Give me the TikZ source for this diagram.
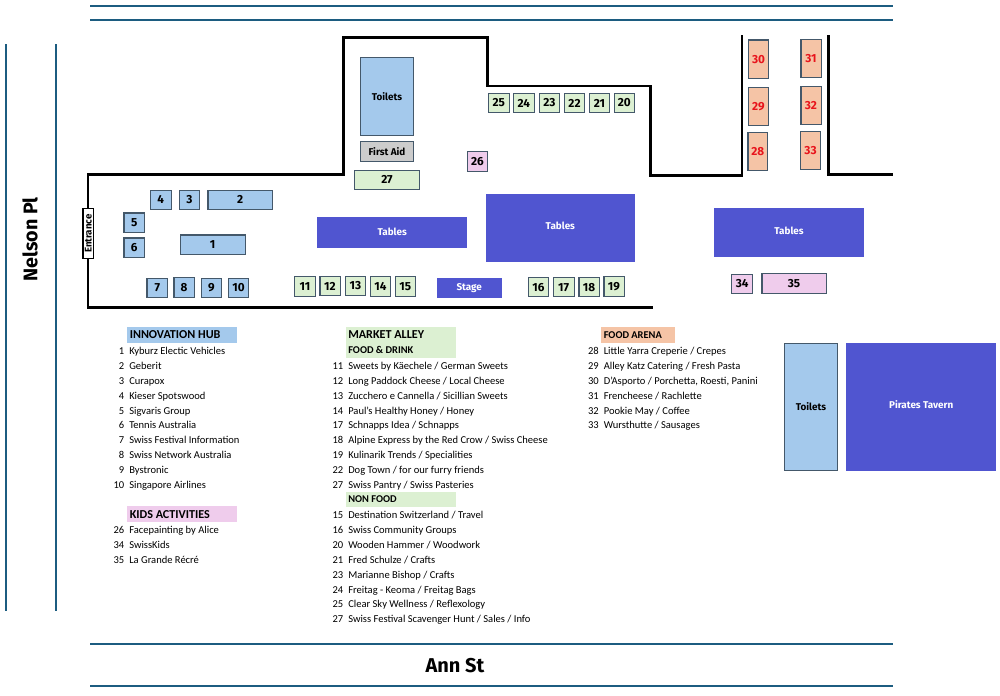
\documentclass[tikz,border=0pt]{standalone}
\usepackage{fontspec}
\setmainfont{Carlito}
\newfontfamily\mapfont{Fira Sans}
\definecolor{hubblue}{HTML}{A4C9EC}
\definecolor{mktgreen}{HTML}{DCF0D2}
\definecolor{kidpink}{HTML}{EFCCEC}
\definecolor{foodor}{HTML}{F5C4A6}
\definecolor{tblue}{HTML}{5055D0}
\definecolor{aidgrey}{HTML}{CCCCCC}
\definecolor{stallline}{HTML}{44586A}
\definecolor{roadline}{HTML}{1C5C80}
\definecolor{foodred}{HTML}{E8141C}
\tikzset{
 px/.style={x=0.75pt,y=-0.75pt},
 box/.style={draw=stallline,line width=0.9pt,inner sep=0pt,text=black,font=\mapfont\bfseries\fontsize{8.8}{9}\selectfont},
 hub/.style={box,fill=hubblue},
 mkt/.style={box,fill=mktgreen},
 kid/.style={box,fill=kidpink},
 food/.style={box,fill=foodor,text=foodred},
 aid/.style={box,fill=aidgrey,font=\mapfont\bfseries\fontsize{7.4}{8}\selectfont},
 wc/.style={box,fill=hubblue,font=\mapfont\bfseries\fontsize{7.4}{8}\selectfont},
 venue/.style={inner sep=0pt,fill=tblue,text=white,font=\mapfont\bfseries\fontsize{7.4}{8}\selectfont},
 wall/.style={line width=1.9pt,draw=black,line cap=butt,line join=miter},
 road/.style={line width=1.4pt,draw=roadline},
 headtxt/.style={inner sep=0pt,anchor=west,font=\bfseries\fontsize{9.1}{10}\selectfont},
 subtxt/.style={inner sep=0pt,anchor=west,font=\bfseries\fontsize{7.8}{10}\selectfont},
 num/.style={inner sep=0pt,anchor=base east,font=\fontsize{7.9}{9}\selectfont},
 item/.style={inner sep=0pt,anchor=base west,font=\fontsize{7.9}{9}\selectfont},
}
% style, name, x1, y1, x2, y2, text
\newcommand{\spot}[7]{%
 \pgfmathsetmacro{\spw}{(#5-#3)*0.75-0.9}\pgfmathsetmacro{\sph}{(#6-#4)*0.75-0.9}%
 \node[#1,minimum width=\spw pt,minimum height=\sph pt] (#2) at ({(#3+#5)/2},{(#4+#6)/2}) {#7};}
% column x, y, num, text
\newcommand{\row}[4]{%
 \node[num] (n#1-#2) at (#1-4.5,#2) {#3};
 \node[item] (t#1-#2) at (#1,#2) {#4};}
\begin{document}
\begin{tikzpicture}[px]
\useasboundingbox (0,0) rectangle (1000,696);
% roads
\draw[road] (90,6) -- (893,6);
\draw[road] (90,20) -- (893,20);
\draw[road] (6,44) -- (6,611);
\draw[road] (56,44) -- (56,611);
\draw[road] (90,644) -- (893,644);
\draw[road] (90,686) -- (893,686);
\node[font=\mapfont\bfseries\fontsize{14.8}{16}\selectfont,rotate=90,inner sep=0pt] (nelson) at (30,239.5) {Nelson Pl};
\node[font=\mapfont\bfseries\fontsize{15}{16}\selectfont,inner sep=0pt] (ann) at (455,666) {Ann St};
% walls
\draw[wall] (88,208) -- (88,174.3) -- (343.3,174.3) -- (343.3,37.3) -- (487.3,37.3) -- (487.3,86) -- (650.3,86) -- (650.3,175.7) -- (742,175.7) -- (742,35);
\draw[wall] (828.7,35) -- (828.7,174.3) -- (893,174.3);
\draw[wall] (88,259) -- (88,307.3) -- (652.7,307.3);
% entrance
\node[draw=black,line width=1.2pt,fill=white,inner sep=0pt,minimum width=37.5pt,minimum height=8pt,rotate=90,font=\mapfont\bfseries\fontsize{7.3}{7}\selectfont] (entrance) at (88.3,233.6) {Entrance};
% innovation hub
\spot{hub}{s4}{149.7}{189.7}{171.7}{210}{4}
\spot{hub}{s3}{178.7}{189.7}{200}{210}{3}
\spot{hub}{s2}{207.3}{189.7}{273}{210}{2}
\spot{hub}{s5}{123.3}{212.3}{145}{232.7}{5}
\spot{hub}{s6}{123.3}{237.3}{145}{258}{6}
\spot{hub}{s1}{179.7}{234.3}{245.7}{255.3}{1}
\spot{hub}{s7}{146.3}{277.7}{168.3}{298.3}{7}
\spot{hub}{s8}{173.3}{277}{195}{297.7}{8}
\spot{hub}{s9}{200.7}{277.7}{222.3}{298.3}{9}
\spot{hub}{s10}{227.7}{277.7}{249.3}{298.3}{10}
% market
\spot{mkt}{s11}{294}{276}{315.7}{296.7}{11}
\spot{mkt}{s12}{319.3}{275.7}{340.7}{296.3}{12}
\spot{mkt}{s13}{344.7}{275.7}{366.3}{296.3}{13}
\spot{mkt}{s14}{369.7}{276}{391.3}{296.7}{14}
\spot{mkt}{s15}{394.7}{276}{416}{296.7}{15}
\spot{mkt}{s16}{527.7}{277}{549.3}{297.3}{16}
\spot{mkt}{s17}{552.7}{277}{574.7}{297.3}{17}
\spot{mkt}{s18}{578.3}{277}{599.7}{297.3}{18}
\spot{mkt}{s19}{603.3}{276}{624.7}{296.7}{19}
\spot{mkt}{s25}{487.7}{92.7}{509.7}{113.3}{25}
\spot{mkt}{s24}{512.7}{92.7}{534.7}{113.3}{24}
\spot{mkt}{s23}{538.7}{92.7}{560}{113.3}{23}
\spot{mkt}{s22}{563.7}{92.7}{585.3}{113.3}{22}
\spot{mkt}{s21}{588.7}{92.7}{610.3}{113.3}{21}
\spot{mkt}{s20}{613.7}{92.7}{635}{113.3}{20}
\spot{mkt}{s27}{354}{169.7}{420}{190.3}{27}
% kids
\spot{kid}{s26}{466.7}{150.7}{488.3}{172}{26}
\spot{kid}{s34}{731}{273.7}{753.3}{294.3}{34}
\spot{kid}{s35}{761.3}{273}{826.7}{294.3}{35}
% food
\spot{food}{s30}{748}{39.3}{769}{79}{30}
\spot{food}{s29}{748}{86.7}{769}{126.3}{29}
\spot{food}{s28}{747.3}{132}{768.3}{171}{28}
\spot{food}{s31}{800.3}{38.7}{821.7}{77.7}{31}
\spot{food}{s32}{800.3}{86}{821.7}{125.3}{32}
\spot{food}{s33}{799.7}{130.7}{821.3}{170}{33}
% facilities
\spot{wc}{wc1}{360}{56.7}{414}{136}{Toilets}
\spot{aid}{aid}{360}{141}{414}{161.7}{First Aid}
\spot{wc}{wc2}{784}{342.7}{838}{470.7}{Toilets}
\spot{venue}{tab1}{316.7}{216}{467.7}{248.3}{Tables}
\spot{venue,text depth=3pt}{tab2}{485}{193.3}{635.7}{263}{Tables}
\spot{venue,text depth=3pt}{tab3}{713.3}{207.7}{864.7}{257.3}{Tables}
\spot{venue}{stage}{436}{277.3}{502.3}{298.3}{Stage}
\spot{venue,text depth=4.5pt}{pirates}{845.7}{342.7}{996.7}{471.3}{Pirates Tavern}
% legend headers
\fill[hubblue] (127,326.7) rectangle (236.7,342.7);
\fill[kidpink] (127,506.3) rectangle (236.7,522.3);
\fill[mktgreen] (345.7,326.7) rectangle (455.7,357.7);
\fill[mktgreen] (345.7,491.7) rectangle (455.7,506.7);
\fill[foodor] (601,326.7) rectangle (674.7,342.7);
\node[headtxt] (h1) at (129.5,334.7) {INNOVATION HUB};
\node[headtxt] (h2) at (129.5,514.3) {KIDS ACTIVITIES};
\node[headtxt] (h3) at (348,334.7) {MARKET ALLEY};
\node[subtxt] (h4) at (348,350.3) {FOOD \& DRINK};
\node[subtxt] (h5) at (348,499.5) {NON FOOD};
\node[subtxt] (h6) at (603.5,335) {FOOD ARENA};
% lists
\row{129}{354}{1}{Kyburz Electic Vehicles}
\row{129}{369}{2}{Geberit}
\row{129}{384}{3}{Curapox}
\row{129}{399}{4}{Kieser Spotswood}
\row{129}{414}{5}{Sigvaris Group}
\row{129}{428.7}{6}{Tennis Australia}
\row{129}{443.7}{7}{Swiss Festival Information}
\row{129}{458.6}{8}{Swiss Network Australia}
\row{129}{473.5}{9}{Bystronic}
\row{129}{488.3}{10}{Singapore Airlines}
\row{129}{533.3}{26}{Facepainting by Alice}
\row{129}{548.3}{34}{SwissKids}
\row{129}{563.3}{35}{La Grande Récré}
\row{348}{369}{11}{Sweets by Käechele / German Sweets}
\row{348}{384}{12}{Long Paddock Cheese / Local Cheese}
\row{348}{399}{13}{Zucchero e Cannella / Sicillian Sweets}
\row{348}{414}{14}{Paul's Healthy Honey / Honey}
\row{348}{428.7}{17}{Schnapps Idea / Schnapps}
\row{348}{443.7}{18}{Alpine Express by the Red Crow / Swiss Cheese}
\row{348}{458.6}{19}{Kulinarik Trends / Specialities}
\row{348}{473.5}{22}{Dog Town / for our furry friends}
\row{348}{488.3}{27}{Swiss Pantry / Swiss Pasteries}
\row{348}{518.3}{15}{Destination Switzerland / Travel}
\row{348}{533.3}{16}{Swiss Community Groups}
\row{348}{548.3}{20}{Wooden Hammer / Woodwork}
\row{348}{563.3}{21}{Fred Schulze / Crafts}
\row{348}{578}{23}{Marianne Bishop / Crafts}
\row{348}{593}{24}{Freitag - Keoma / Freitag Bags}
\row{348}{607.9}{25}{Clear Sky Wellness / Reflexology}
\row{348}{622.8}{27}{Swiss Festival Scavenger Hunt / Sales / Info}
\row{603.5}{354}{28}{Little Yarra Creperie / Crepes}
\row{603.5}{369}{29}{Alley Katz Catering / Fresh Pasta}
\row{603.5}{384}{30}{D'Asporto / Porchetta, Roesti, Panini}
\row{603.5}{399}{31}{Frencheese / Rachlette}
\row{603.5}{414}{32}{Pookie May / Coffee}
\row{603.5}{428.7}{33}{Wursthutte / Sausages}
\end{tikzpicture}
\end{document}
